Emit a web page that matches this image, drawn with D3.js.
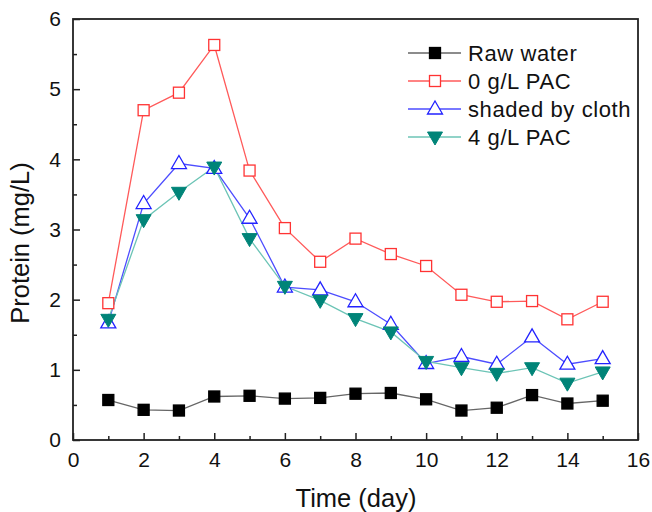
<!DOCTYPE html>
<html>
<head>
<meta charset="utf-8">
<script src="https://cdn.jsdelivr.net/npm/d3@7"></script>
<style>
  body { margin: 0; background: #fff; }
  text { font-family: "Liberation Sans", Arial, sans-serif; fill: #111; }
</style>
</head>
<body>
<svg width="652" height="512"></svg>
<script>
var svg = d3.select('svg');

// data
var days = [1, 2, 3, 4, 5, 6, 7, 8, 9, 10, 11, 12, 13, 14, 15];
var rawWater = [0.57, 0.43, 0.42, 0.62, 0.63, 0.59, 0.60, 0.66, 0.67, 0.58, 0.42, 0.46, 0.64, 0.52, 0.56];
var pac0 = [1.95, 4.70, 4.95, 5.63, 3.84, 3.02, 2.54, 2.87, 2.65, 2.48, 2.07, 1.97, 1.98, 1.72, 1.97];
var shaded = [1.67, 3.37, 3.94, 3.87, 3.16, 2.18, 2.14, 1.97, 1.65, 1.09, 1.19, 1.08, 1.47, 1.08, 1.16];
var pac4 = [1.72, 3.14, 3.53, 3.89, 2.87, 2.19, 1.99, 1.73, 1.54, 1.12, 1.03, 0.95, 1.03, 0.81, 0.97];
var seriesNames = ['Raw water', '0 g/L PAC', 'shaded by cloth', '4 g/L PAC'];
var xTicks = [0, 2, 4, 6, 8, 10, 12, 14, 16];
var yTicks = [0, 1, 2, 3, 4, 5, 6];

var plotL = 73, plotR = 638, plotT = 19, plotB = 440;

var x = d3.scaleLinear().domain([0, 16]).range([plotL, plotR]);
var y = d3.scaleLinear().domain([0, 6]).range([plotB, plotT]);

var series = [
  {name: seriesNames[0], values: rawWater, line: '#666666', stroke: '#000', fill: '#000', shape: 'square'},
  {name: seriesNames[1], values: pac0, line: '#ff5a5a', stroke: '#ff3333', fill: '#fff', shape: 'square'},
  {name: seriesNames[2], values: shaded, line: '#4d4dff', stroke: '#2222ff', fill: '#fff', shape: 'up'},
  {name: seriesNames[3], values: pac4, line: '#6cc4b6', stroke: '#008478', fill: '#008478', shape: 'down'}
];

function marker(g, s, cx, cy) {
  if (s.shape == 'square') {
    g.append('rect')
      .attr('x', cx - 5.5).attr('y', cy - 5.5)
      .attr('width', 11).attr('height', 11)
      .attr('fill', s.fill).attr('stroke', s.stroke).attr('stroke-width', 1.3);
  } else if (s.shape == 'up') {
    g.append('path')
      .attr('d', 'M' + cx + ',' + (cy - 8) + 'L' + (cx + 7.5) + ',' + (cy + 5) + 'L' + (cx - 7.5) + ',' + (cy + 5) + 'Z')
      .attr('fill', s.fill).attr('stroke', s.stroke).attr('stroke-width', 1.3);
  } else {
    g.append('path')
      .attr('d', 'M' + cx + ',' + (cy + 8) + 'L' + (cx + 7.5) + ',' + (cy - 5) + 'L' + (cx - 7.5) + ',' + (cy - 5) + 'Z')
      .attr('fill', s.fill).attr('stroke', s.stroke).attr('stroke-width', 1);
  }
}

// axes, ticks pointing inward
svg.append('g').attr('transform', 'translate(0,' + plotB + ')')
  .call(d3.axisBottom(x).tickValues(xTicks).tickSize(-7).tickPadding(12).tickFormat(d3.format('d')));
svg.append('g').attr('transform', 'translate(0,' + plotB + ')')
  .call(d3.axisBottom(x).tickValues(d3.range(1, 16, 2)).tickSize(-4).tickFormat(''));
svg.append('g').attr('transform', 'translate(' + plotL + ',0)')
  .call(d3.axisLeft(y).tickValues(yTicks).tickSize(-7).tickPadding(12).tickFormat(d3.format('d')));
svg.append('g').attr('transform', 'translate(' + plotL + ',0)')
  .call(d3.axisLeft(y).tickValues(d3.range(0.5, 6, 1)).tickSize(-4).tickFormat(''));

svg.selectAll('.domain').remove();
svg.selectAll('.tick line').attr('stroke', '#222').attr('stroke-width', 1.5);
svg.selectAll('.tick text').style('font-size', '21px').attr('fill', '#111');

// frame
svg.append('rect')
  .attr('x', plotL).attr('y', plotT)
  .attr('width', plotR - plotL).attr('height', plotB - plotT)
  .attr('fill', 'none').attr('stroke', '#222').attr('stroke-width', 1.8);

// lines and markers
var line = d3.line()
  .x(function(d, i) { return x(days[i]); })
  .y(function(d) { return y(d); });

series.forEach(function(s) {
  svg.append('path')
    .attr('d', line(s.values))
    .attr('fill', 'none')
    .attr('stroke', s.line)
    .attr('stroke-width', 1.3);
});
series.forEach(function(s) {
  var g = svg.append('g');
  s.values.forEach(function(v, i) {
    marker(g, s, x(days[i]), y(v));
  });
});

// legend
series.forEach(function(s, i) {
  var ly = 53 + i * 28;
  svg.append('line')
    .attr('x1', 408).attr('x2', 461).attr('y1', ly).attr('y2', ly)
    .attr('stroke', s.line).attr('stroke-width', 1.3);
  marker(svg.append('g'), s, 435, ly);
  svg.append('text')
    .attr('x', 468).attr('y', ly)
    .attr('dy', '0.36em')
    .style('font-size', '22px')
    .style('letter-spacing', '0.6px')
    .text(s.name);
});

// axis titles
svg.append('text')
  .attr('x', 356).attr('y', 507)
  .attr('text-anchor', 'middle')
  .style('font-size', '25.5px')
  .text('Time (day)');
svg.append('text')
  .attr('transform', 'translate(28.5,243) rotate(-90)')
  .attr('text-anchor', 'middle')
  .style('font-size', '25.5px')
  .text('Protein (mg/L)');
</script>
</body>
</html>
